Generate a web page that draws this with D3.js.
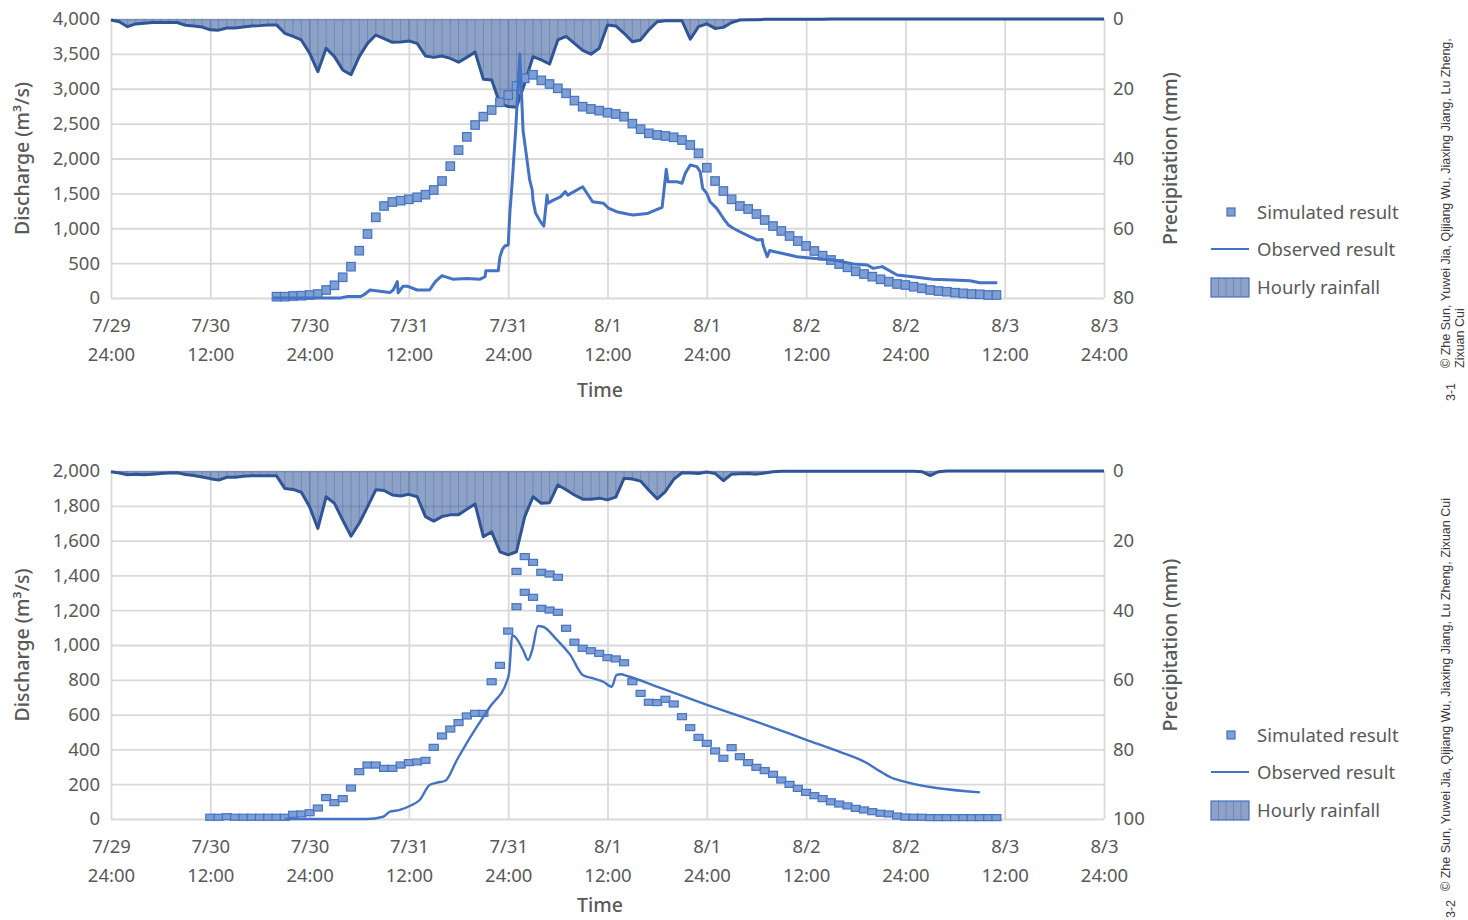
<!DOCTYPE html>
<html>
<head>
<meta charset="utf-8">
<script src="https://cdn.jsdelivr.net/npm/d3@7"></script>
<style>
body{margin:0;background:#fff}
text{font-family:"Noto Sans",Roboto,sans-serif;fill:#595959}
.grid line{stroke:#d9d9d9;stroke-width:1.8}
.grid .domain{display:none}
.lbl .domain{display:none}
.copy{font-family:"Liberation Sans",Arial,sans-serif;font-size:12.5px;fill:#3a3a3a}
</style>
</head>
<body>
<svg id="chart" width="1468" height="920"></svg>
<script>
// time axis is hours after 7/29 24:00
var hourTicks = [0,12,24,36,48,60,72,84,96,108,120]
var dateLabels = ['7/29','7/30','7/30','7/31','7/31','8/1','8/1','8/2','8/2','8/3','8/3']
var clockLabels = ['24:00','12:00','24:00','12:00','24:00','12:00','24:00','12:00','24:00','12:00','24:00']

// hourly rainfall (mm), h0..h120
var rainTop = [0.3,0.8,2.2,1.4,1.2,1.0,1.0,1.0,1.0,1.8,
  2.0,2.3,3.1,3.2,2.6,2.6,2.3,2.0,1.9,1.7,
  1.7,4.1,5.0,6.0,9.8,15.1,8.4,10.8,14.6,16.0,
  10.8,7.0,4.6,5.6,6.7,6.6,6.3,7.0,10.6,11.0,
  10.6,11.3,12.4,11.0,9.5,17.3,17.5,24.2,25.1,25.3,
  18.4,10.8,11.7,12.9,6.0,5.0,7.0,9.0,10.1,8.4,
  1.7,2.0,4.1,6.5,6.0,3.1,0.8,0.5,0.5,0.5,
  5.8,2.2,1.4,2.7,2.4,1.0,0.3,0.2,0.2,0.1,
  0.1,0.1,0.1,0.1,0.1,0.1,0.1,0,0,0,
  0,0,0,0,0,0,0,0,0,0,
  0,0,0,0,0,0,0,0,0,0,
  0,0,0,0,0,0,0,0,0,0,0]
var rainBottom = [0.2,0.6,1.1,0.9,1.1,0.9,0.7,0.6,0.5,1.0,
  1.3,1.7,2.2,2.6,1.8,1.8,1.5,1.4,1.4,1.4,
  1.4,5.0,5.3,6.1,10.3,16.5,7.4,9.3,14.1,18.7,
  15.0,10.3,5.4,5.6,6.9,7.2,6.7,7.4,13.1,14.4,
  13.1,12.6,12.6,11.0,9.5,18.9,17.5,23.2,24.1,23.2,
  13.1,7.4,9.3,9.1,4.0,5.4,6.9,8.1,8.1,7.8,
  8.3,7.5,2.1,2.3,2.9,5.5,8.0,5.9,2.4,0.5,
  0.6,0.7,0.3,0.7,2.8,0.9,0.8,0.7,0.9,0.6,
  0.2,0.1,0.1,0.1,0.1,0.1,0.1,0.1,0.1,0.1,
  0.1,0.1,0.1,0.1,0.1,0.1,0.1,0.1,0.2,1.3,
  0.2,0,0,0,0,0,0,0,0,0,
  0,0,0,0,0,0,0,0,0,0,0]

// observed discharge (m3/s)
var obsTopHour = [19.6,27.7,28.5,30.1,30.5,31.3,33.7,34.1,34.6,34.7,35.3,35.8,37.0,38.5,39.2,40.0,41.3,43.0,44.6,45.2,45.3,46.8,
  47.0,47.3,47.6,48.0,48.2,48.5,48.9,49.4,49.8,50.6,50.9,51.0,51.3,51.9,52.3,52.7,52.8,53.4,54.3,54.9,55.2,57.0,58.2,59.5,60.1,
  61.1,62.4,63.1,64.8,66.0,66.6,67.1,67.3,68.4,69.0,69.4,70.0,70.8,71.2,71.5,72.0,72.4,73.2,74.0,74.6,75.2,76.0,77.2,78.1,78.7,
  78.8,79.3,79.6,80.2,82.0,82.9,84.8,87.3,89.7,91.4,92.1,93.2,95.0,96.9,99.3,101.8,103.8,105.0,107.1]
var obsTopQ = [0,0,20,20,40,115,80,115,235,75,170,170,115,115,235,320,270,280,270,305,390,390,
  590,700,745,760,1220,1690,2400,3500,2400,1690,1550,1400,1220,1095,1030,1475,1360,1400,1450,1525,1475,1595,1380,1360,1290,
  1237,1205,1190,1210,1270,1300,1845,1667,1667,1645,1788,1907,1883,1810,1573,1500,1380,1285,1143,1047,1000,950,880,832,840,
  760,592,680,664,617,592,570,545,487,473,425,450,330,305,268,258,248,220,220]
var obsBottomHour = [21.0,30.9,32.9,33.7,34.9,36.1,37.3,38.5,39.4,40.4,41.8,43.7,45.8,47.9,48.1,48.5,48.8,49.8,50.4,50.9,
  51.6,52.2,53.9,55.5,57.0,58.2,59.5,60.5,61.1,61.6,62.4,66.3,72.1,78.4,84.1,88.0,91.4,92.9,94.5,105.0]
var obsBottomQ = [0,0,13,42,52,75,109,195,209,220,339,492,645,799,837,1057,1048,971,914,971,
  1109,1105,1029,943,828,809,789,760,828,832,822,755,655,552,454,387,320,275,234,153]

// simulated discharge, hourly from a start hour
var simTopStart = 20
var simTop = [19,19,29,33,43,57,115,182,297,449,678,918,1157,1319,1376,1395,1415,1444,1481,1548,
  1677,1890,2120,2310,2480,2600,2695,2806,2910,3040,3150,3200,3120,3068,3006,2935,2830,2743,2710,2686,
  2657,2638,2600,2500,2420,2361,2337,2323,2304,2265,2194,2075,1868,1677,1534,1415,1319,1276,1204,1118,
  1032,961,889,817,746,674,607,545,487,440,383,344,306,268,234,201,186,162,139,115,
  100,90,76,67,57,53,43,43]
var simBottomStart = 12
var simBottom = [10,10,13,10,10,10,10,10,10,10,27,29,36,63,123,94,117,178,272,310,
  310,291,291,310,324,328,337,412,477,517,554,592,607,607,789,883,1080,1220,1303,1274,
  1211,1201,1188,1096,1016,981,967,952,927,920,898,789,722,671,669,688,661,588,525,469,
  435,391,349,410,358,324,297,278,257,224,199,176,153,134,117,99,86,75,61,52,
  42,33,29,17,11,10,10,8,8,8,8,8,8,8,8,8]
var simBottomExtraHour = [49,50,51,52,53,54]
var simBottomExtraQ = [1423,1508,1475,1418,1408,1389]

var svg = d3.select('#chart')
var x = d3.scaleLinear().domain([0,120]).range([111,1104])

function panel(p){
  var g = svg.append('g')
  var yQ = d3.scaleLinear().domain([0,p.qMax]).range([p.y1,p.y0])
  var yR = d3.scaleLinear().domain([0,p.rMax]).range([p.y0,p.y1])

  // gridlines
  g.append('g').attr('class','grid').attr('transform','translate(111,0)')
    .call(d3.axisLeft(yQ).tickValues(d3.range(0,p.qMax+1,p.qStep)).tickSize(-993).tickFormat(''))
  g.append('g').attr('class','grid').attr('transform','translate(0,'+p.y1+')')
    .call(d3.axisBottom(x).tickValues(hourTicks).tickSize(-(p.y1-p.y0)).tickFormat(''))

  // rainfall, hanging from the top
  var rainData = p.rain.map(function(v,i){return {h:i,r:v}})
  g.append('path').datum(rainData)
    .attr('d',d3.area().x(function(d){return x(d.h)}).y0(yR(0)).y1(function(d){return yR(d.r)}))
    .attr('fill','rgba(47,85,151,0.55)')
  g.append('g').selectAll('line').data(rainData).enter().append('line')
    .attr('x1',function(d){return x(d.h)}).attr('x2',function(d){return x(d.h)})
    .attr('y1',yR(0)).attr('y2',function(d){return yR(d.r)})
    .attr('stroke','rgba(47,85,151,0.3)').attr('stroke-width',1)
  g.append('path').datum(rainData)
    .attr('d',d3.line().x(function(d){return x(d.h)}).y(function(d){return yR(d.r)}))
    .attr('fill','none').attr('stroke','#2f5597').attr('stroke-width',3).attr('stroke-linejoin','round')

  // simulated squares
  var sims = p.sim.map(function(v,i){return {h:p.simStart+i,q:v}})
  if(p.extraHour) p.extraHour.forEach(function(h,i){sims.push({h:h,q:p.extraQ[i]})})
  g.append('g').selectAll('rect').data(sims).enter().append('rect')
    .attr('x',function(d){return x(d.h)-p.sqW/2}).attr('y',function(d){return yQ(d.q)-p.sqH/2})
    .attr('width',p.sqW).attr('height',p.sqH)
    .attr('fill','#7f9fd3').attr('stroke','#4472c4').attr('stroke-width',1.2)

  // observed line
  var obs = p.obsHour.map(function(h,i){return {h:h,q:p.obsQ[i]}})
  g.append('path').datum(obs)
    .attr('d',d3.line().curve(p.curve).x(function(d){return x(d.h)}).y(function(d){return yQ(d.q)}))
    .attr('fill','none').attr('stroke','#4472c4').attr('stroke-width',p.lineW).attr('stroke-linejoin','round')

  // tick labels
  g.append('g').attr('class','lbl').attr('transform','translate(111,0)')
    .call(d3.axisLeft(yQ).tickValues(d3.range(0,p.qMax+1,p.qStep)).tickSize(0).tickPadding(11).tickFormat(d3.format(',')))
  g.append('g').attr('class','lbl').attr('transform','translate(1104,0)')
    .call(d3.axisRight(yR).tickValues(d3.range(0,p.rMax+1,p.rStep)).tickSize(0).tickPadding(9))
  var bottom = g.append('g').attr('class','lbl').attr('transform','translate(0,'+p.y1+')')
    .call(d3.axisBottom(x).tickValues(hourTicks).tickSize(0))
  g.selectAll('.lbl text').attr('font-size',18.5).attr('fill','#595959').attr('font-family','"Noto Sans",Roboto,sans-serif')
  bottom.selectAll('.tick text').text(null).attr('y',null).attr('dy',null)
    .each(function(d,i){
      var t = d3.select(this)
      t.append('tspan').attr('x',0).attr('y',34).text(dateLabels[i])
      t.append('tspan').attr('x',0).attr('y',63).text(clockLabels[i])
    })

  // titles
  g.append('text').attr('x',600).attr('y',p.y1+p.timeDy).attr('text-anchor','middle')
    .attr('font-size',19.5).attr('font-weight',500).text('Time')
  var mid = (p.y0+p.y1)/2
  g.append('text').attr('transform','translate(29,'+mid+') rotate(-90)').attr('text-anchor','middle')
    .attr('font-size',19.5).attr('font-weight',500).text('Discharge (m³/s)')
  g.append('text').attr('transform','translate(1177,'+mid+') rotate(-90)').attr('text-anchor','middle')
    .attr('font-size',19.5).attr('font-weight',500).text('Precipitation (mm)')

  // legend
  var ly = p.legendY
  var lg = g.append('g')
  lg.append('rect').attr('x',1227).attr('y',ly[0]-4).attr('width',8).attr('height',8)
    .attr('fill','#7f9fd3').attr('stroke','#4472c4').attr('stroke-width',1.2)
  lg.append('line').attr('x1',1211).attr('x2',1249).attr('y1',ly[1]).attr('y2',ly[1])
    .attr('stroke','#4472c4').attr('stroke-width',2.2)
  lg.append('rect').attr('x',1211).attr('y',ly[2]-9).attr('width',38).attr('height',19)
    .attr('fill','rgba(47,85,151,0.55)').attr('stroke','#4472c4').attr('stroke-width',1.2)
  lg.selectAll('.div').data([1218.5,1226,1233.5,1241]).enter().append('line')
    .attr('x1',function(d){return d}).attr('x2',function(d){return d})
    .attr('y1',ly[2]-9).attr('y2',ly[2]+10).attr('stroke','rgba(47,85,151,0.35)')
  lg.selectAll('.lt').data(['Simulated result','Observed result','Hourly rainfall']).enter().append('text')
    .attr('x',1257).attr('y',function(d,i){return ly[i]+7}).attr('font-size',18.5).text(function(d){return d})
}

panel({y0:19,y1:298,qMax:4000,qStep:500,rMax:80,rStep:20,rain:rainTop,
  obsHour:obsTopHour,obsQ:obsTopQ,curve:d3.curveLinear,lineW:3,simStart:simTopStart,sim:simTop,
  sqW:8.5,sqH:8.5,legendY:[212,249,287],timeDy:99})
panel({y0:471,y1:819,qMax:2000,qStep:200,rMax:100,rStep:20,rain:rainBottom,
  obsHour:obsBottomHour,obsQ:obsBottomQ,curve:d3.curveMonotoneX,lineW:2.4,simStart:simBottomStart,sim:simBottom,
  extraHour:simBottomExtraHour,extraQ:simBottomExtraQ,sqW:9,sqH:6,legendY:[735,772,810],timeDy:93})

// credits
function rot(x,y,s){
  svg.append('text').attr('class','copy').attr('transform','translate('+x+','+y+') rotate(-90)').text(s)
}
rot(1450,368,'© Zhe Sun, Yuwei Jia, Qijiang Wu, Jiaxing Jiang, Lu Zheng,')
rot(1464,368,'Zixuan Cui')
rot(1455,401,'3-1')
rot(1450,891,'© Zhe Sun, Yuwei Jia, Qijiang Wu, Jiaxing Jiang, Lu Zheng, Zixuan Cui')
rot(1455,918,'3-2')
</script>
</body>
</html>
